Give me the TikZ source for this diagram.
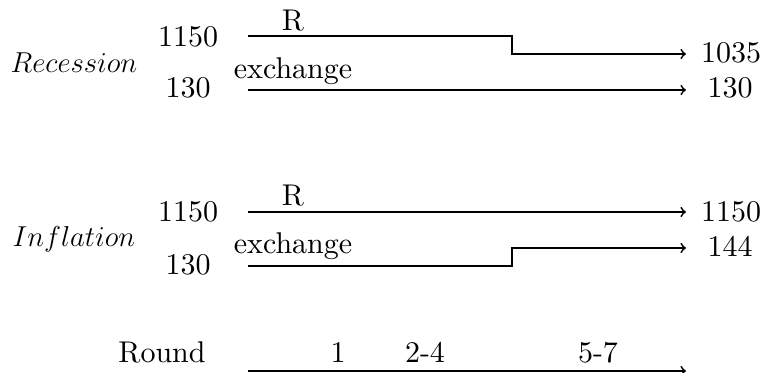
\documentclass[tikz,border=0pt]{standalone}
\newcommand{\upsized}[1]{\scalebox{1.5}{#1}}
\begin{document}
\begin{tikzpicture}[x=0.5pt,y=-0.5pt,
  lbl/.style={font=\fontsize{10}{12}\selectfont, inner sep=0pt, anchor=base},
  mlbl/.style={font=\fontsize{15}{18}\selectfont, inner sep=0pt, anchor=base},
  flow/.style={line width=0.9pt, ->},
]
\useasboundingbox (0,0) rectangle (762,373);

% Recession scenario
\node[mlbl] (recname) at (74,73) {$Recession$};
\node[lbl] (recR0) at (188,47) {\upsized{1150}};
\node[lbl] (recE0) at (188,98) {\upsized{130}};
\node[lbl] (recRl) at (293,31) {\upsized{R}};
\node[lbl] (recEl) at (293,79) {\upsized{exchange}};
\node[lbl] (recR1) at (731,63) {\upsized{1035}};
\node[lbl] (recE1) at (730,98) {\upsized{130}};
\coordinate (recRa) at (248,36);
\coordinate (recRs) at (512,36);
\coordinate (recRb) at (686,54);
\coordinate (recEa) at (248,90);
\coordinate (recEb) at (686,90);
\draw[flow] (recRa) -- (recRs) |- (recRb);
\draw[flow] (recEa) -- (recEb);

% Inflation scenario
\node[mlbl] (infname) at (74,247) {$Inflation$};
\node[lbl] (infR0) at (188,222) {\upsized{1150}};
\node[lbl] (infE0) at (188,275) {\upsized{130}};
\node[lbl] (infRl) at (293,206) {\upsized{R}};
\node[lbl] (infEl) at (293,254) {\upsized{exchange}};
\node[lbl] (infR1) at (731,222) {\upsized{1150}};
\node[lbl] (infE1) at (730,257) {\upsized{144}};
\coordinate (infRa) at (248,212);
\coordinate (infRb) at (686,212);
\coordinate (infEa) at (248,266);
\coordinate (infEs) at (512,266);
\coordinate (infEb) at (686,248);
\draw[flow] (infRa) -- (infRb);
\draw[flow] (infEa) -- (infEs) |- (infEb);

% Round axis
\node[lbl] (round) at (162,363) {\upsized{Round}};
\node[lbl] (r1) at (338,363) {\upsized{1}};
\node[lbl] (r24) at (425,363) {\upsized{2-4}};
\node[lbl] (r57) at (598,363) {\upsized{5-7}};
\coordinate (axa) at (248,371);
\coordinate (axb) at (686,371);
\draw[flow] (axa) -- (axb);
\end{tikzpicture}
\end{document}
